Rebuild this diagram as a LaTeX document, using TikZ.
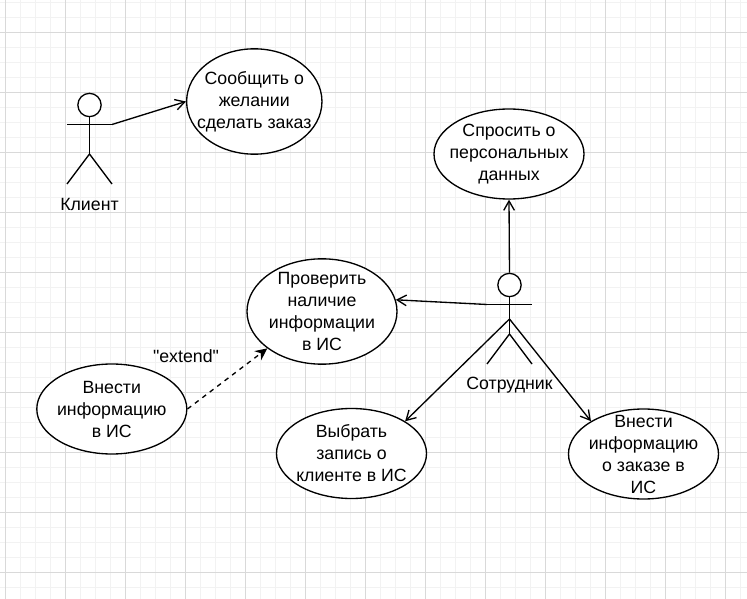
\documentclass[tikz,border=0pt]{standalone}
\usepackage{fontspec}
\setmainfont{Liberation Sans}
\newfontfamily\plainfont{Liberation Sans}
\usetikzlibrary{arrows.meta,shapes.geometric,positioning}
\begin{document}
\begin{tikzpicture}[x=0.75pt,y=-0.75pt,
  usecase/.style={draw,fill=white,ellipse,inner sep=-30pt,align=center,line width=1pt,minimum width=112.5pt,minimum height=67.5pt,font=\fontsize{13.3}{16.5}\selectfont},
  head/.style={draw,fill=white,circle,inner sep=0pt,minimum size=17.5pt,line width=1pt},
  txt/.style={inner sep=0pt,font=\fontsize{13.3}{16.5}\selectfont},
  stick/.style={line width=1pt},
  assoc/.style={line width=1pt,-{Straight Barb[length=7pt,width=8pt]}},
  ext/.style={line width=1pt,dashed,dash pattern=on 3.5pt off 3.5pt,-{Stealth[length=9pt,width=8.5pt]}}]
  \useasboundingbox (0,0) rectangle (747,599);
  % grid
  \fill[white] (0,0) rectangle (747,599);
  \foreach \gx in {0,...,49} \draw[line width=0.6pt,black!5] ({5.7+15*\gx},0) -- ({5.7+15*\gx},599);
  \foreach \gy in {0,...,39} \draw[line width=0.6pt,black!5] (0,{2+15*\gy}) -- (747,{2+15*\gy});
  \foreach \gx in {0,...,12} \draw[line width=0.6pt,black!15] ({5.7+60*\gx},0) -- ({5.7+60*\gx},599);
  \foreach \gy in {0,...,9} \draw[line width=0.6pt,black!15] (0,{32+60*\gy}) -- (747,{32+60*\gy});

  % use cases
  \node[usecase,minimum width=101.5pt,minimum height=79pt] (order) at (254.3,101.5) {Сообщить о\\желании\\сделать заказ};
  \node[usecase] (personal) at (509,154) {Спросить о\\персональных\\данных};
  \node[usecase,minimum height=79pt] (check) at (322,311.5) {Проверить\\наличие\\информации\\в ИС};
  \node[usecase] (addinfo) at (111.8,409) {Внести\\информацию\\в ИС};
  \node[usecase] (pick) at (351.5,453.5) {Выбрать\\запись о\\клиенте в ИС};
  \node[usecase] (addorder) at (643.5,454) {Внести\\информацию\\о заказе в\\ИС};

  % client
  \node[head] (clienthead) at (89.5,105) {};
  \coordinate (clientarmL) at (67,124.5);
  \coordinate (clientarmR) at (112,124.5);
  \coordinate (clienthip) at (89.5,154);
  \coordinate (clientlegL) at (67,184);
  \coordinate (clientlegR) at (112,184);
  \draw[stick] (clienthead) -- (clienthip);
  \draw[stick] (clientarmL) -- (clientarmR);
  \draw[stick] (clientlegL) -- (clienthip) -- (clientlegR);
  \node[txt] (clientname) at (89.5,204) {Клиент};

  % employee
  \node[head] (staffhead) at (509.5,285) {};
  \coordinate (staffarmL) at (487,304.5);
  \coordinate (staffarmR) at (532,304.5);
  \coordinate (staffhip) at (509.5,334);
  \coordinate (stafflegL) at (487,364);
  \coordinate (stafflegR) at (532,364);
  \coordinate (staffbody) at (509.5,319);
  \draw[stick] (staffhead) -- (staffhip);
  \draw[stick] (staffarmL) -- (staffarmR);
  \draw[stick] (stafflegL) -- (staffhip) -- (stafflegR);
  \node[txt] (staffname) at (509.5,385) {Сотрудник};

  % connectors
  \draw[assoc] (clientarmR) -- (order.west);
  \draw[assoc] (staffhead.north) -- (personal.south);
  \draw[assoc] (staffarmL) -- (check.9);
  \draw[assoc] (staffbody) -- (pick.31);
  \draw[assoc] (staffbody) -- (addorder.148);
  \draw[ext] (addinfo.east) -- (check.214);
  \node[txt,font=\fontsize{13.3}{16.5}\plainfont] (extlabel) at (186,356) {"extend"};
\end{tikzpicture}
\end{document}
